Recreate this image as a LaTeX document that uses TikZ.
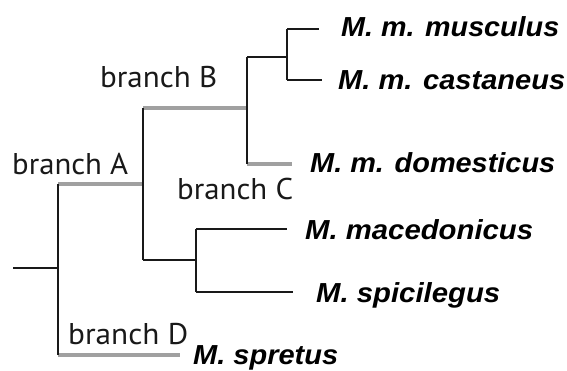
\documentclass[tikz,border=0pt]{standalone}
\usepackage{graphicx}
\usepackage{fontspec}
\newfontfamily\spfont{Liberation Sans}
\newfontfamily\brfont{PT Sans}
\definecolor{brgray}{RGB}{160,160,160}
\definecolor{ln}{RGB}{25,25,25}
\tikzset{
  blk/.style={draw=ln, line width=2pt},
  gry/.style={draw=brgray, line width=3.6pt},
  sp/.style={anchor=base west, inner sep=0pt, font=\spfont\bfseries\itshape\fontsize{27.5}{27.5}\selectfont},
  br/.style={anchor=base west, inner sep=0pt, text=ln, font=\brfont\fontsize{30}{30}\selectfont},
}
\newcommand{\wfit}[2]{\resizebox{#1pt}{\height}{#2}}
\begin{document}
\begin{tikzpicture}[x=1pt,y=-1pt]
\useasboundingbox (0,0) rectangle (567,371);
% internal nodes and tips
\coordinate (root) at (13,268);
\coordinate (n0) at (58,268);
\coordinate (nA) at (143,184);
\coordinate (nB) at (247,108);
\coordinate (nC) at (196,260);
\coordinate (nMM) at (287,57);
\coordinate (tMus) at (319,29);
\coordinate (tCas) at (322,80);
\coordinate (tDom) at (292,164);
\coordinate (tMac) at (287,229);
\coordinate (tSpi) at (293,292);
\coordinate (tSpr) at (180,355);
% gray branches
\draw[gry] (n0 |- nA) -- (nA);
\draw[gry] (nA |- nB) -- (nB);
\draw[gry] (nB |- tDom) -- (tDom);
\draw[gry] (n0 |- tSpr) -- (tSpr);
% black branches
\draw[blk] (root) -- (n0);
\draw[blk] (n0 |- nA) -- (n0 |- tSpr);
\draw[blk] (nA |- nB) -- (nA |- nC);
\draw[blk] (nA |- nC) -- (nC);
\draw[blk] (nB |- nMM) -- (nB |- tDom);
\draw[blk] (nB |- nMM) -- (nMM);
\draw[blk] (nMM |- tMus) -- (nMM |- tCas);
\draw[blk] (nMM |- tMus) -- (tMus);
\draw[blk] (nMM |- tCas) -- (tCas);
\draw[blk] (nC |- tMac) -- (nC |- tSpi);
\draw[blk] (nC |- tMac) -- (tMac);
\draw[blk] (nC |- tSpi) -- (tSpi);
% species labels
\node[sp] (lMus) at (341,37) {\wfit{218}{M. m. musculus}};
\node[sp] (lCas) at (338,90) {\wfit{227}{M. m. castaneus}};
\node[sp] (lDom) at (310,173) {\wfit{245}{M. m. domesticus}};
\node[sp] (lMac) at (305,239) {\wfit{228}{M. macedonicus}};
\node[sp] (lSpi) at (316,302) {\wfit{184}{M. spicilegus}};
\node[sp] (lSpr) at (193,364) {\wfit{145}{M. spretus}};
% branch labels
\node[br] (bA) at (12,175) {\wfit{116}{branch A}};
\node[br] (bB) at (100,88) {\wfit{117}{branch B}};
\node[br] (bC) at (177,200) {\wfit{116}{branch C}};
\node[br] (bD) at (68,344) {\wfit{120}{branch D}};
\end{tikzpicture}
\end{document}
